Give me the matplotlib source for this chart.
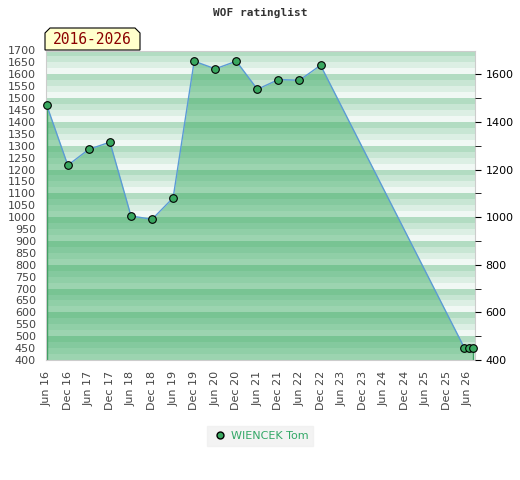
import matplotlib
matplotlib.use('Agg')
import matplotlib.pyplot as plt
from matplotlib.patches import Polygon
from matplotlib.lines import Line2D

# months counted from Jun 2016
months = [0, 6, 12, 18, 24, 30, 36, 42, 48, 54, 60, 66, 72, 78, 119, 120.3, 121.5]
ratings = [1470, 1218, 1285, 1315, 1005, 991, 1081, 1655, 1623, 1655,
           1537, 1578, 1575, 1638, 450, 450, 450]
tick_months = list(range(0, 121, 6))
tick_labels = ['Jun 16', 'Dec 16', 'Jun 17', 'Dec 17', 'Jun 18', 'Dec 18', 'Jun 19',
               'Dec 19', 'Jun 20', 'Dec 20', 'Jun 21', 'Dec 21', 'Jun 22', 'Dec 22',
               'Jun 23', 'Dec 23', 'Jun 24', 'Dec 24', 'Jun 25', 'Dec 25', 'Jun 26']
player = 'WIENCEK Tom'
period = '2016-2026'

W, H = 520, 480
fig = plt.figure(figsize=(W / 100, H / 100), dpi=100)
ax = fig.add_axes([45.7 / W, 1 - 360 / H, (475 - 45.7) / W, (360 - 50.5) / H])

# striped background, 4 stripes per 100 points
stripe_cols = ['#f0f8f4', '#dcefe4', '#c8e6d4', '#b2dcc2']
for b in range(400, 1700, 100):
    for k in range(4):
        ax.axhspan(b + 25 * k, b + 25 * (k + 1), color=stripe_cols[k], lw=0, zorder=0)

ax.fill_between(months, ratings, 400, color='#28a354', alpha=0.42, lw=0, zorder=1)
ax.vlines([months[0], months[-1]], 400, [ratings[0], ratings[-1]], color='#3a9e5f', lw=1, zorder=2)
ax.plot(months, ratings, color='#5b9bd5', lw=1.0, zorder=3)
ax.plot(months, ratings, 'o', markerfacecolor='#3aa860', markeredgecolor='black',
        markeredgewidth=0.8, markersize=5.5, zorder=4, clip_on=False)

ax.set_xlim(-0.3, 122)
ax.set_ylim(400, 1700)
ax.set_yticks(range(400, 1701, 50))
ax.tick_params(axis='y', length=0, labelsize=8, labelcolor='#444444', pad=7)
ax.set_xticks(tick_months)
ax.set_xticklabels(tick_labels, rotation=90)
ax.tick_params(axis='x', length=0, labelsize=8, labelcolor='#444444', pad=8)
for s in ax.spines.values():
    s.set_color('#cccccc')

ax2 = ax.twinx()
ax2.set_ylim(400, 1700)
ax2.set_yticks(range(400, 1601, 200))
ax2.set_yticks(range(500, 1601, 200), minor=True)
ax2.tick_params(axis='y', which='both', length=4, labelsize=8, direction='out')
for s in ax2.spines.values():
    s.set_visible(False)

fig.text(260 / W, 1 - 13 / H, 'WOF ratinglist', ha='center', va='center',
         family='DejaVu Sans Mono', weight='bold', fontsize=8, color='#333333')

# period label box with cut corners
px = [(45, 50), (45, 33), (50, 28), (135, 28), (140, 33), (140, 50)]
poly = Polygon([(x / W, 1 - y / H) for x, y in px], closed=True, transform=fig.transFigure,
               facecolor='#ffffcc', edgecolor='black', lw=0.8)
fig.patches.append(poly)
fig.text(92.5 / W, 1 - 40 / H, period, ha='center', va='center',
         family='DejaVu Sans Mono', fontsize=10.5, color='#8b0000')

handle = Line2D([], [], marker='o', ls='none', markerfacecolor='#3aa860',
                markeredgecolor='black', markersize=5)
leg = fig.legend([handle], [player], loc='center', bbox_to_anchor=(260 / W, 1 - 436 / H),
                 frameon=True, fancybox=False, fontsize=8, handletextpad=0.3,
                 borderpad=0.45, handlelength=1.4)
leg.get_frame().set_facecolor('#f0f0f0')
leg.get_frame().set_edgecolor('#f0f0f0')
for t in leg.get_texts():
    t.set_color('#33a867')

fig.savefig('out.png', dpi=100)
